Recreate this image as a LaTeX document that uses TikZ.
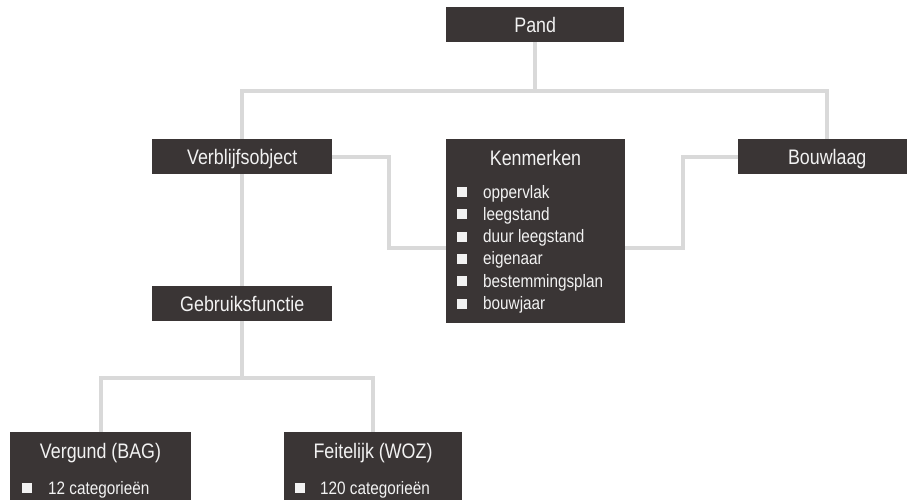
\documentclass[tikz,border=0pt]{standalone}
\usepackage{fontspec}
\setmainfont{Liberation Sans}[FakeStretch=0.85]
\definecolor{boxgray}{HTML}{3A3535}
\definecolor{txtwhite}{HTML}{F2F2F2}
\definecolor{linegray}{HTML}{D9D9D9}
\begin{document}
\begin{tikzpicture}[x=1pt,y=-1pt,
  single/.style={fill=boxgray, text=txtwhite, font=\fontsize{21}{25}\selectfont,
    text height=15pt, text depth=0pt, inner sep=0pt, minimum height=35pt, anchor=north west},
  panel/.style={fill=boxgray, inner sep=0pt, anchor=north west},
  ttl/.style={text=txtwhite, font=\fontsize{21}{25}\selectfont, text height=15pt, text depth=0pt, inner sep=0pt},
  itm/.style={text=txtwhite, font=\fontsize{18}{22}\selectfont, anchor=base west, inner sep=0pt},
  bul/.style={fill=txtwhite, minimum size=10pt, inner sep=0pt},
  conn/.style={draw=linegray, line width=4pt}]
\useasboundingbox (0,0) rectangle (907,499);
\clip (0,0) rectangle (907,499);

% boxes
\node[single, minimum width=178pt] (pand) at (446,7) {Pand};
\node[single, minimum width=180pt] (verb) at (152,139) {Verblijfsobject};
\node[single, minimum width=178pt] (bouw) at (738,139) {Bouwlaag};
\node[single, minimum width=180pt] (geb) at (152,286) {Gebruiksfunctie};
\node[panel, minimum width=179pt, minimum height=184pt] (ken) at (446,139) {};
\node[panel, minimum width=181pt, minimum height=75pt] (verg) at (10,432) {};
\node[panel, minimum width=178pt, minimum height=75pt] (feit) at (284,432) {};

% titles
\node[ttl] (kent) at (535.5,158) {Kenmerken};
\node[ttl] (vergt) at (100.5,451) {Vergund (BAG)};
\node[ttl] (feitt) at (373,451) {Feitelijk (WOZ)};

% Kenmerken list
\foreach \t [count=\i from 0] in {oppervlak,leegstand,duur leegstand,eigenaar,bestemmingsplan,bouwjaar}{
  \node[bul] (kb\i) at (461.5,{192+22.3*\i}) {};
  \node[itm] (ki\i) at (483,{198+22.3*\i}) {\t};
}
% bottom lists
\node[bul] (vb) at (27,488) {};
\node[itm] (vi) at (48,494) {12 categorieën};
\node[bul] (fb) at (300,488) {};
\node[itm] (fi) at (320,494) {120 categorieën};

% connectors
\coordinate (lvl1) at (0,91);
\coordinate (lvl2) at (0,378);
\coordinate (kl) at (389,248);
\coordinate (kr) at (683,248);
\draw[conn] (pand.south) -- (pand.south |- lvl1);
\draw[conn] (verb.north) -- (verb.north |- lvl1) -- (bouw.north |- lvl1) -- (bouw.north);
\draw[conn] (verb.east) -| (kl) -- (ken.west |- kl);
\draw[conn] (bouw.west) -| (kr) -- (ken.east |- kr);
\draw[conn] (verb.south) -- (geb.north);
\draw[conn] (geb.south) -- (geb.south |- lvl2);
\draw[conn] (verg.north) -- (verg.north |- lvl2) -- (feit.north |- lvl2) -- (feit.north);
\end{tikzpicture}
\end{document}
